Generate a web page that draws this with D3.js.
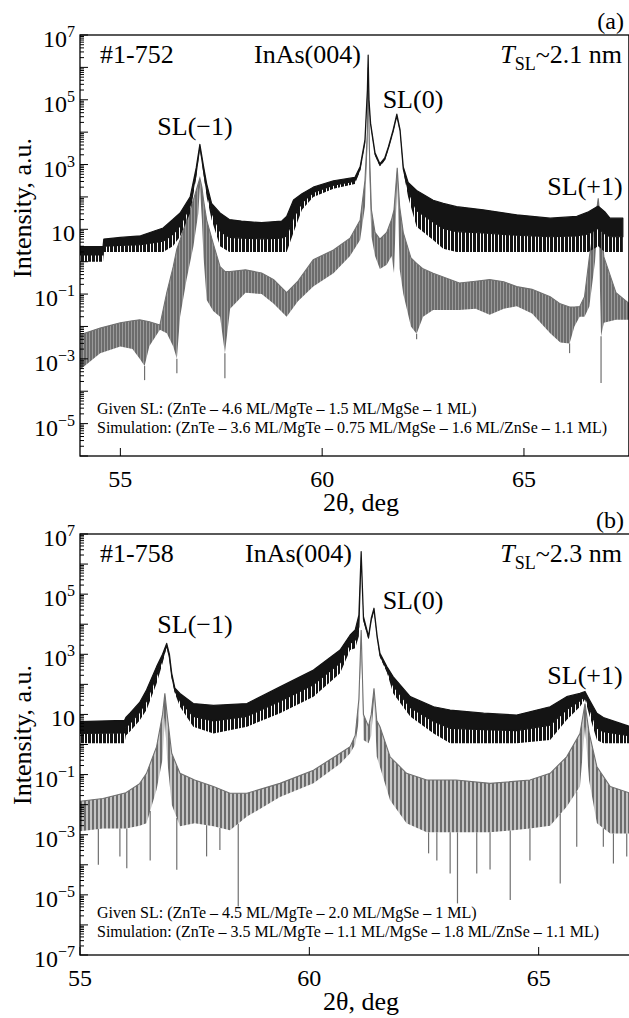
<!DOCTYPE html>
<html>
<head>
<meta charset="utf-8">
<script src="https://cdn.jsdelivr.net/npm/d3@7"></script>
<style>
body { margin: 0; background: #fff; }
svg { display: block; font-family: "Liberation Serif", "Times New Roman", serif; }
</style>
</head>
<body>
<script>
// ---- panel (a): sample #1-752, measured curve (upper / lower edge of the noisy band)
var thetaA_exp = [54.00, 54.57, 54.59, 55.00, 55.50, 56.06, 56.30, 56.48, 56.73, 56.88, 56.97, 57.06, 57.14, 57.26, 57.47, 57.70,
  58.00, 58.50, 59.00, 59.12, 59.29, 59.50, 59.78, 60.28, 60.81, 60.94, 61.06, 61.12, 61.14, 61.16, 61.20, 61.31, 61.43,
  61.55, 61.64, 61.76, 61.85, 61.93, 62.01, 62.13, 62.34, 62.75, 63.00, 63.33, 63.99, 64.82, 65.65, 66.31, 66.60, 66.84,
  67.00, 67.13, 67.45];
var hiA_exp = [2.9, 2.9, 5, 5.6, 6.3, 11, 20, 32, 100, 800, 4200, 900, 250, 63, 32, 20,
  18, 16, 18, 25, 80, 126, 200, 316, 400, 850, 5800, 2e5, 2.4e6, 1e5, 1.9e4, 2300, 1050,
  1600, 3500, 1.2e4, 3.6e4, 1.2e4, 850, 280, 158, 79, 63, 50, 40, 28, 22, 25, 35, 52,
  35, 22, 22];
var loA_exp = [1, 1, 2, 2, 2, 2, 3, 6, 32, 400, 3200, 500, 100, 20, 3, 2,
  2, 2, 2, 2, 8, 40, 100, 178, 250, 630, 4500, 1.5e5, 2e6, 8e4, 1.6e4, 1900, 890,
  1300, 2900, 1e4, 3e4, 1e4, 630, 100, 12, 4.7, 2.5, 2, 2, 2, 2, 2, 2, 3,
  2, 2, 2];

// ---- panel (a): simulated curve (upper / lower edge of the fringes)
var thetaA_sim = [54.00, 54.50, 55.00, 55.30, 55.48, 55.60, 55.72, 55.98, 56.15, 56.31, 56.40, 56.48, 56.64, 56.81, 56.93,
  56.97, 57.02, 57.06, 57.14, 57.30, 57.47, 57.59, 57.72, 58.10, 58.50, 58.80, 59.12, 59.40, 59.78, 60.28, 60.69, 60.94,
  61.06, 61.12, 61.14, 61.17, 61.22, 61.31, 61.43, 61.60, 61.72, 61.78, 61.86, 61.92, 62.01, 62.20, 62.34, 62.50, 62.75,
  63.40, 63.80, 64.15, 64.50, 64.82, 65.20, 65.65, 65.90, 66.13, 66.25, 66.38, 66.50, 66.62, 66.76, 66.84, 66.91, 66.98,
  67.28, 67.60];
var hiA_sim = [0.0055, 0.0089, 0.013, 0.015, 0.016, 0.015, 0.014, 0.011, 0.11, 0.7, 2.5, 4.7, 19, 81, 260,
  380, 200, 81, 19, 3.7, 0.7, 0.5, 0.5, 0.56, 0.45, 0.28, 0.11, 0.25, 1.15, 2.3, 5.3, 19,
  316, 1e4, 1e6, 3000, 40, 8, 5, 8, 20, 40, 800, 50, 7.9, 1.3, 0.89, 0.6, 0.44,
  0.22, 0.25, 0.28, 0.24, 0.17, 0.14, 0.083, 0.05, 0.04, 0.04, 0.041, 0.083, 1.4, 16, 91, 10, 1.4,
  0.11, 0.052];
var loA_sim = [4.6e-4, 0.0015, 0.0024, 0.002, 0.001, 6e-4, 0.0025, 0.0079, 0.0062, 0.0024, 0.001, 0.02, 0.28, 3, 30,
  200, 20, 1.4, 0.066, 0.03, 0.02, 0.0015, 0.035, 0.11, 0.1, 0.05, 0.02, 0.06, 0.17, 0.44, 1.5, 4.7,
  50, 3000, 3e5, 500, 6, 1.5, 0.6, 0.8, 1.5, 0.45, 400, 0.6, 0.1, 0.01, 0.006, 0.02, 0.032,
  0.032, 0.035, 0.023, 0.035, 0.042, 0.025, 0.0062, 0.0032, 0.003, 0.01, 0.02, 0.02, 0.041, 1, 32, 0.005, 0.013,
  0.016, 0.016];
var spikeThetaA = [55.60, 56.40, 57.59, 62.34, 66.13, 66.91];
var spikeValA = [2.2e-4, 3.6e-4, 2.5e-4, 0.004, 0.0015, 1.8e-4];

// ---- panel (b): sample #1-758, measured curve
var thetaB_exp = [55.00, 55.97, 56.00, 56.09, 56.30, 56.45, 56.67, 56.80, 56.89, 56.95, 57.00, 57.07, 57.18, 57.47, 57.91,
  58.64, 59.36, 60.09, 60.67, 60.89, 61.00, 61.08, 61.13, 61.18, 61.29, 61.35, 61.41, 61.48, 61.54, 61.69, 61.83,
  62.20, 62.71, 63.07, 63.80, 64.52, 65.25, 65.61, 65.90, 66.01, 66.10, 66.27, 66.41, 67.00];
var hiB_exp = [5.8, 6.3, 7.9, 11, 25, 65, 389, 1000, 2300, 1000, 234, 74, 50, 23, 20,
  23, 83, 302, 1380, 4365, 6457, 2e4, 2.6e6, 1.8e4, 3981, 1.58e4, 3.4e4, 3981, 1072, 389, 178,
  39, 18, 14, 11, 9.5, 18, 39, 50, 58, 32, 11, 7.9, 3.9];
var loB_exp = [1.1, 1.1, 2, 2.7, 6.3, 14, 107, 500, 1800, 630, 158, 50, 18, 3.9, 2.3,
  3.9, 11, 39, 234, 1380, 1585, 4000, 2e6, 1.26e4, 3162, 1.26e4, 2.8e4, 3162, 800, 251, 50,
  8.5, 2.3, 1.1, 1.1, 1.1, 1.4, 6.5, 18, 32, 10, 1.4, 1.1, 1.1];

// ---- panel (b): simulated curve
var thetaB_sim = [55.00, 55.50, 56.00, 56.30, 56.45, 56.67, 56.80, 56.85, 56.90, 57.00, 57.18, 57.50, 57.91, 58.27, 58.64,
  59.36, 60.09, 60.67, 60.89, 61.00, 61.08, 61.13, 61.18, 61.29, 61.35, 61.41, 61.47, 61.54, 61.76, 62.12, 62.56,
  63.20, 63.94, 64.81, 65.25, 65.61, 65.90, 66.01, 66.10, 66.27, 66.56, 67.00];
var hiB_sim = [0.013, 0.016, 0.025, 0.05, 0.11, 0.85, 10, 50, 10, 0.51, 0.11, 0.066, 0.04, 0.024, 0.024,
  0.051, 0.14, 0.51, 0.85, 2, 32, 6457, 10, 4, 10, 74, 6.3, 3.9, 0.39, 0.11, 0.066,
  0.066, 0.051, 0.066, 0.11, 0.39, 2.3, 23, 2.5, 0.18, 0.04, 0.024];
var loB_sim = [0.0013, 0.0016, 0.0016, 0.002, 0.0024, 0.032, 0.32, 8, 0.32, 0.01, 0.0019, 0.0024, 0.0019, 0.0014, 0.004,
  0.018, 0.051, 0.23, 0.51, 1, 6.3, 3162, 1.4, 1.1, 2, 32, 0.4, 0.18, 0.014, 0.0024, 0.0012,
  0.0012, 0.0012, 0.0016, 0.002, 0.0085, 0.04, 4, 0.063, 0.0024, 0.0011, 0.0011];
var spikeThetaB = [55.40, 55.87, 56.02, 56.53, 57.11, 57.76, 58.05, 58.45, 62.60, 62.78, 63.07, 63.23, 63.65, 63.94,
  64.38, 64.81, 65.47, 65.83, 66.41, 66.63, 66.92];
var spikeValB = [1e-4, 1.9e-4, 7.6e-5, 1.4e-4, 6.8e-5, 1.9e-4, 3.1e-4, 4.1e-6, 2.4e-4, 1.4e-4, 5.1e-5, 5.2e-6, 5.1e-5, 7e-5,
  6.8e-6, 1.4e-4, 2.4e-5, 4e-4, 4e-4, 1.1e-4, 1.9e-4];

// ---- axes
var xTicksA = [55, 60, 65];
var xTicksB = [55, 60, 65];
var yLabelExpA = [7, 5, 3, 1, -1, -3, -5];
var yLabelExpB = [7, 5, 3, 1, -1, -3, -5, -7];

var svg = d3.select("body").append("svg")
    .attr("width", 629)
    .attr("height", 1018);

var defs = svg.append("defs");

// vertical comb fills to mimic the dense thickness fringes / counting noise
function comb(id, period, bg, color, bars) {
  var p = defs.append("pattern")
      .attr("id", id)
      .attr("patternUnits", "userSpaceOnUse")
      .attr("width", period)
      .attr("height", 8);
  if (bg) p.append("rect").attr("width", period).attr("height", 8).attr("fill", bg);
  bars.forEach(function(b) {
    p.append("rect").attr("x", b[0]).attr("width", b[1]).attr("height", 8).attr("fill", color);
  });
}
comb("combA", 3, "#9a9a9a", "#6c6c6c", [[0, 2]]);
comb("combB", 4, "#c4c4c4", "#6c6c6c", [[0, 2]]);
comb("noise", 11, null, "#141414", [[0, 3], [4, 3], [8, 2]]);

function rows(th, hi, lo) {
  return th.map(function(t, i) { return {t: t, hi: hi[i], lo: lo[i]}; });
}

function drawPanel(p) {
  var x = d3.scaleLinear().domain(p.xDomain).range([p.left, p.right]);
  var y = d3.scaleLog().domain(p.yDomain).range([p.bottom, p.top]);

  defs.append("clipPath").attr("id", "clip" + p.name)
    .append("rect")
      .attr("x", p.left).attr("y", p.top)
      .attr("width", p.right - p.left).attr("height", p.bottom - p.top);

  var plot = svg.append("g").attr("clip-path", "url(#clip" + p.name + ")");

  var band = d3.area()
      .x(function(d) { return x(d.t); })
      .y0(function(d) { return y(d.lo); })
      .y1(function(d) { return y(d.hi); });
  var top = d3.line()
      .x(function(d) { return x(d.t); })
      .y(function(d) { return y(d.hi); });

  // simulation (grey)
  var sim = rows(p.simTheta, p.simHi, p.simLo);
  plot.append("path").datum(sim)
      .attr("d", band)
      .attr("fill", "url(#" + p.comb + ")");
  plot.append("path").datum(sim)
      .attr("d", top)
      .attr("fill", "none")
      .attr("stroke", "#707070")
      .attr("stroke-width", 1.1);

  // deep single minima of the simulation
  var loAt = d3.scaleLinear().domain(p.simTheta).range(p.simLo.map(Math.log10));
  plot.selectAll(".spike")
      .data(p.spikeTheta)
    .enter().append("line")
      .attr("class", "spike")
      .attr("x1", function(d) { return x(d); })
      .attr("x2", function(d) { return x(d); })
      .attr("y1", function(d) { return y(Math.pow(10, loAt(d))); })
      .attr("y2", function(d, i) { return y(p.spikeVal[i]); })
      .attr("stroke", "#707070")
      .attr("stroke-width", 1.2);

  // measurement (black): dense upper part, spiky lower part down to the floor
  var meas = rows(p.expTheta, p.expHi, p.expLo);
  var mid = function(d) { return Math.pow(d.hi, 0.45) * Math.pow(d.lo, 0.55); };
  plot.append("path").datum(meas)
      .attr("d", d3.area()
        .x(function(d) { return x(d.t); })
        .y0(function(d) { return y(d.lo); })
        .y1(function(d) { return y(mid(d)); }))
      .attr("fill", "url(#noise)");
  plot.append("path").datum(meas)
      .attr("d", d3.area()
        .x(function(d) { return x(d.t); })
        .y0(function(d) { return y(mid(d)); })
        .y1(function(d) { return y(d.hi); }))
      .attr("fill", "#141414")
      .attr("stroke", "#141414")
      .attr("stroke-width", 1.2)
      .attr("stroke-linejoin", "round");

  // frame
  svg.append("rect")
      .attr("x", p.left).attr("y", p.top)
      .attr("width", p.right - p.left).attr("height", p.bottom - p.top)
      .attr("fill", "none")
      .attr("stroke", "#000")
      .attr("stroke-width", 1.3);

  // y ticks: decades long, 2..9 short, pointing inwards
  var e0 = Math.round(Math.log10(p.yDomain[0])), e1 = Math.round(Math.log10(p.yDomain[1]));
  var yt = [];
  for (var e = e0; e < e1; e++) {
    for (var k = 1; k < 10; k++) yt.push({v: k * Math.pow(10, e), major: k === 1});
  }
  yt.push({v: Math.pow(10, e1), major: true});
  svg.append("g").selectAll("line")
      .data(yt)
    .enter().append("line")
      .attr("x1", p.left)
      .attr("x2", function(d) { return p.left + (d.major ? 8 : 4); })
      .attr("y1", function(d) { return y(d.v); })
      .attr("y2", function(d) { return y(d.v); })
      .attr("stroke", "#000")
      .attr("stroke-width", 1);

  var yl = svg.append("g").selectAll("text")
      .data(p.yLabels)
    .enter().append("text")
      .attr("x", 75)
      .attr("y", function(d) { return y(Math.pow(10, d)) + 12; })
      .attr("text-anchor", "end")
      .style("font-size", "24px");
  yl.append("tspan").text("10");
  yl.filter(function(d) { return d !== 1; })
    .append("tspan")
      .attr("dy", -10)
      .style("font-size", "16px")
      .text(function(d) { return d < 0 ? "\u2212" + (-d) : d; });

  // x ticks
  svg.append("g").selectAll("line")
      .data(p.xTicks)
    .enter().append("line")
      .attr("x1", function(d) { return x(d); })
      .attr("x2", function(d) { return x(d); })
      .attr("y1", p.bottom)
      .attr("y2", p.bottom - 8)
      .attr("stroke", "#000")
      .attr("stroke-width", 1);
  svg.append("g").selectAll("text")
      .data(p.xTicks)
    .enter().append("text")
      .attr("x", function(d) { return x(d); })
      .attr("y", p.bottom + 31)
      .attr("text-anchor", "middle")
      .style("font-size", "24px")
      .text(function(d) { return d; });

  // axis titles
  svg.append("text")
      .attr("transform", "translate(31," + p.yTitleY + ") rotate(-90)")
      .attr("text-anchor", "middle")
      .style("font-size", "26px")
      .text("Intensity, a.u.");
  svg.append("text")
      .attr("x", 361)
      .attr("y", p.bottom + 55)
      .attr("text-anchor", "middle")
      .style("font-size", "26px")
      .text("2\u03b8, deg");
  svg.append("text")
      .attr("x", 624)
      .attr("y", p.top - 6)
      .attr("text-anchor", "end")
      .style("font-size", "24px")
      .text(p.letter);

  // annotations
  var big = [
    {t: p.sample, x: 100, y: p.top + 28, a: "start"},
    {t: "InAs(004)", x: p.inasX, y: p.top + 28, a: "start"},
    {t: "SL(\u22121)", x: 195, y: p.slm1Y, a: "middle"},
    {t: "SL(0)", x: 413, y: p.sl0Y, a: "middle"},
    {t: "SL(+1)", x: 585, y: p.slp1Y, a: "middle"}
  ];
  svg.append("g").selectAll("text")
      .data(big)
    .enter().append("text")
      .attr("x", function(d) { return d.x; })
      .attr("y", function(d) { return d.y; })
      .attr("text-anchor", function(d) { return d.a; })
      .style("font-size", "26px")
      .text(function(d) { return d.t; });

  var tsl = svg.append("text")
      .attr("x", 622)
      .attr("y", p.top + 28)
      .attr("text-anchor", "end")
      .style("font-size", "26px");
  tsl.append("tspan").style("font-style", "italic").text("T");
  tsl.append("tspan").attr("dy", 7).style("font-size", "18px").text("SL");
  tsl.append("tspan").attr("dy", -7).text("~" + p.period);

  svg.append("text")
      .attr("x", 97)
      .attr("y", p.givenY)
      .style("font-size", "16px")
      .text(p.given);
  svg.append("text")
      .attr("x", 97)
      .attr("y", p.givenY + 19)
      .style("font-size", "16px")
      .text(p.simText);
}

drawPanel({
  name: "A", letter: "(a)", sample: "#1-752", period: "2.1 nm",
  xDomain: [54, 67.6], yDomain: [1e-6, 1e7],
  left: 80, right: 628.9, top: 35, bottom: 456,
  comb: "combA",
  expTheta: thetaA_exp, expHi: hiA_exp, expLo: loA_exp,
  simTheta: thetaA_sim, simHi: hiA_sim, simLo: loA_sim,
  spikeTheta: spikeThetaA, spikeVal: spikeValA,
  xTicks: xTicksA, yLabels: yLabelExpA,
  yTitleY: 208, inasX: 254, slm1Y: 135, sl0Y: 108, slp1Y: 195,
  givenY: 414,
  given: "Given SL: (ZnTe \u2013 4.6 ML/MgTe \u2013 1.5 ML/MgSe \u2013 1 ML)",
  simText: "Simulation: (ZnTe \u2013 3.6 ML/MgTe \u2013 0.75 ML/MgSe \u2013 1.6 ML/ZnSe \u2013 1.1 ML)"
});

drawPanel({
  name: "B", letter: "(b)", sample: "#1-758", period: "2.3 nm",
  xDomain: [55, 67], yDomain: [1e-7, 1e7],
  left: 80, right: 630.4, top: 534, bottom: 955,
  comb: "combB",
  expTheta: thetaB_exp, expHi: hiB_exp, expLo: loB_exp,
  simTheta: thetaB_sim, simHi: hiB_sim, simLo: loB_sim,
  spikeTheta: spikeThetaB, spikeVal: spikeValB,
  xTicks: xTicksB, yLabels: yLabelExpB,
  yTitleY: 735, inasX: 245, slm1Y: 633, sl0Y: 609, slp1Y: 684,
  givenY: 918,
  given: "Given SL: (ZnTe \u2013 4.5 ML/MgTe \u2013 2.0 ML/MgSe \u2013 1 ML)",
  simText: "Simulation: (ZnTe \u2013 3.5 ML/MgTe \u2013 1.1 ML/MgSe \u2013 1.8 ML/ZnSe \u2013 1.1 ML)"
});
</script>
</body>
</html>
